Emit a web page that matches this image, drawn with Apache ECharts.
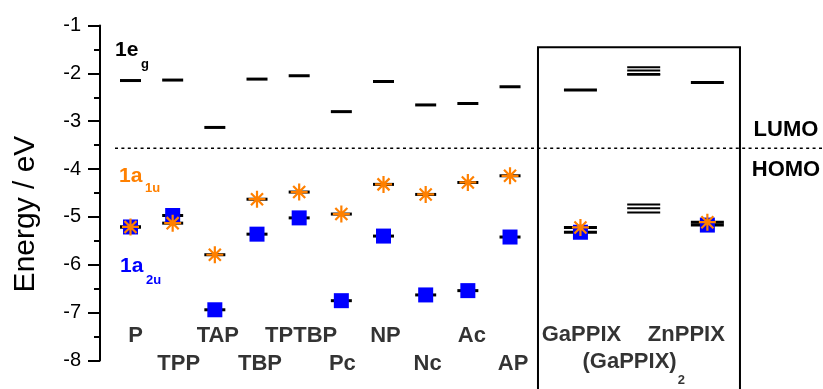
<!DOCTYPE html>
<html>
<head>
<meta charset="utf-8">
<script src="https://cdn.jsdelivr.net/npm/echarts@6/dist/echarts.min.js"></script>
<style>
  html, body { margin: 0; padding: 0; background: #ffffff; }
  #chart { width: 823px; height: 389px; }
</style>
</head>
<body>
<div id="chart"></div>
<script>
// Frontier orbital energies (eV) of porphyrin-type macrocycles
const compounds = ['P', 'TPP', 'TAP', 'TBP', 'TPTBP', 'Pc', 'NP', 'Nc', 'Ac', 'AP',
                   'GaPPIX', '(GaPPIX)2', 'ZnPPIX'];
// ordinal slot of each compound along the horizontal direction
const slots = [1, 2, 3, 4, 5, 6, 7, 8, 9, 10, 11.67, 13.17, 14.68];

// 1eg (LUMO) levels
const egLevels  = [-2.15, -2.14, -3.13, -2.12, -2.05, -2.80, -2.17, -2.66, -2.63, -2.28,
                   -2.35, null, -2.19];
// 1a1u (HOMO) levels
const a1uLevels = [-5.21, -5.13, -5.79, -4.63, -4.48, -4.94, -4.32, -4.53, -4.28, -4.14,
                   -5.22, null, -5.11];
// 1a2u (HOMO) levels
const a2uLevels = [-5.21, -4.97, -6.94, -5.36, -5.02, -6.75, -5.40, -6.63, -6.54, -5.42,
                   -5.32, null, -5.17];
// dimer (GaPPIX)2: split unoccupied and occupied levels
const dimerLumo = [-1.87, -1.94, -2.015, -2.03];
const dimerHomo = [-4.74, -4.82, -4.91];

// HOMO / LUMO separation line
const gapEnergy = -3.565;
// energy axis range and step
const energyMin = -8, energyMax = -1, energyStep = 1;

const FONT = '"Liberation Sans", Arial, Helvetica, sans-serif';
const BLACK = '#000000';
const ORANGE = '#FF8000';
const BLUE = '#0000FF';

// horizontal layout of the plot
const slotMin = 0.2767, slotMax = 17.422;
const ppixFrom = 10;               // index where the PPIX group starts
const frameSlots = [10.663, 15.453];
const frameTop = -1.455;
const gapLineStart = 0.632;

// eight-spoke asterisk marker
const ASTERISK = 'path://M43.5 0H56.5V100H43.5Z M0 43.5H100V56.5H0Z ' +
  'M19.24 10.04L89.96 80.76L80.76 89.96L10.04 19.24Z ' +
  'M80.76 10.04L89.96 19.24L19.24 89.96L10.04 80.76Z';

function pts(values, pick) {
  const out = [];
  values.forEach((v, i) => {
    if (v !== null && pick(i)) out.push([slots[i], v]);
  });
  return out;
}
const core = i => i < ppixFrom;
const ppix = i => i >= ppixFrom;

function levelPoints(pick) {
  return pts(egLevels, pick).concat(pts(a1uLevels, pick), pts(a2uLevels, pick));
}

const dimerIndex = compounds.indexOf('(GaPPIX)2');
const dimerPoints = dimerLumo.concat(dimerHomo).map(v => [slots[dimerIndex], v]);

// category name labels: two staggered rows
const nameShift = [5, 6, 3, 3, 2, 1, 2, 2, 4, 3, 1, -10, -21];
const nameData = compounds.map((c, i) => {
  const lower = i % 2 === 1;
  const dy = i >= ppixFrom ? (lower ? 1 : -26) : (lower ? 3.5 : -24.5);
  return {
    name: c,
    value: [slots[i], energyMin],
    label: { offset: [nameShift[i], dy] }
  };
});

const solid = color => ({ color: color, opacity: 1 });

const chart = echarts.init(document.getElementById('chart'), null, { renderer: 'canvas' });

chart.setOption({
  animation: false,
  backgroundColor: '#ffffff',
  grid: { left: 100, right: 0, top: 25.5, bottom: 28.5, outerBoundsMode: 'none', containLabel: false },
  xAxis: { type: 'value', min: slotMin, max: slotMax, show: false },
  yAxis: {
    type: 'value',
    min: energyMin, max: energyMax, interval: energyStep,
    axisLine: { show: true, lineStyle: { color: BLACK, width: 2 } },
    axisTick: { show: true, inside: false, length: 12, lineStyle: { color: BLACK, width: 2 } },
    minorTick: { show: true, splitNumber: 2, length: 6, lineStyle: { color: BLACK, width: 2 } },
    splitLine: { show: false },
    minorSplitLine: { show: false },
    axisLabel: { color: BLACK, fontSize: 20, fontFamily: FONT, margin: 19 }
  },
  series: [
    {
      name: 'frame', type: 'line', clip: false, silent: true, symbol: 'none',
      lineStyle: { color: BLACK, width: 2, join: 'miter' },
      data: [[frameSlots[0], energyMin - 1], [frameSlots[0], frameTop],
             [frameSlots[1], frameTop], [frameSlots[1], energyMin - 1]]
    },
    {
      name: 'gap', type: 'line', silent: true, symbol: 'none',
      lineStyle: { color: BLACK, width: 1.6, type: [3, 3.4] },
      data: [[gapLineStart, gapEnergy], [slotMax, gapEnergy]]
    },
    {
      name: 'levels', type: 'scatter', silent: true,
      symbol: 'rect', symbolSize: [21, 3],
      itemStyle: solid(BLACK),
      data: levelPoints(core)
    },
    {
      name: 'levels PPIX', type: 'scatter', silent: true,
      symbol: 'rect', symbolSize: [33, 3],
      itemStyle: solid(BLACK),
      data: levelPoints(ppix)
    },
    {
      name: 'dimer levels', type: 'scatter', silent: true,
      symbol: 'rect', symbolSize: [33, 2],
      itemStyle: solid(BLACK),
      data: dimerPoints
    },
    {
      name: '1a2u', type: 'scatter', silent: true,
      symbol: 'rect', symbolSize: 15,
      itemStyle: solid(BLUE),
      data: pts(a2uLevels, () => true)
    },
    {
      name: '1a1u', type: 'scatter', silent: true,
      symbol: ASTERISK, symbolSize: 17,
      itemStyle: solid(ORANGE),
      data: pts(a1uLevels, () => true)
    },
    {
      name: 'names', type: 'scatter', silent: true,
      symbolSize: 0, itemStyle: { color: 'rgba(0,0,0,0)' },
      label: {
        show: true, position: 'inside',
        formatter: p => {
          const m = /^(.*\))(\d)$/.exec(p.name);
          return m ? '{m|' + m[1] + '}{s|' + m[2] + '}' : '{m|' + p.name + '}';
        },
        rich: {
          m: { fontSize: 22, fontWeight: 'bold', fontFamily: FONT, color: BLACK },
          s: { fontSize: 13, fontWeight: 'bold', fontFamily: FONT, color: BLACK, padding: [38, 0, 0, 1] }
        }
      },
      data: nameData
    }
  ],
  graphic: [
    { type: 'text', x: 26, y: 214, rotation: Math.PI / 2, silent: true,
      style: { text: 'Energy / eV', fontSize: 30, fontFamily: FONT, fill: BLACK,
               align: 'center', verticalAlign: 'middle' } },
    { type: 'text', x: 115, y: 50.5, silent: true,
      style: { text: '1e', fontSize: 21, fontWeight: 'bold', fontFamily: FONT, fill: BLACK,
               align: 'left', verticalAlign: 'middle' } },
    { type: 'text', x: 141, y: 64.5, silent: true,
      style: { text: 'g', fontSize: 13, fontWeight: 'bold', fontFamily: FONT, fill: BLACK,
               align: 'left', verticalAlign: 'middle' } },
    { type: 'text', x: 119, y: 176, silent: true,
      style: { text: '1a', fontSize: 21, fontWeight: 'bold', fontFamily: FONT, fill: ORANGE,
               align: 'left', verticalAlign: 'middle' } },
    { type: 'text', x: 145, y: 188.5, silent: true,
      style: { text: '1u', fontSize: 13, fontWeight: 'bold', fontFamily: FONT, fill: ORANGE,
               align: 'left', verticalAlign: 'middle' } },
    { type: 'text', x: 120, y: 266, silent: true,
      style: { text: '1a', fontSize: 21, fontWeight: 'bold', fontFamily: FONT, fill: BLUE,
               align: 'left', verticalAlign: 'middle' } },
    { type: 'text', x: 146, y: 280.5, silent: true,
      style: { text: '2u', fontSize: 13, fontWeight: 'bold', fontFamily: FONT, fill: BLUE,
               align: 'left', verticalAlign: 'middle' } },
    { type: 'text', x: 786, y: 129.5, silent: true,
      style: { text: 'LUMO', fontSize: 22, fontWeight: 'bold', fontFamily: FONT, fill: BLACK,
               align: 'center', verticalAlign: 'middle' } },
    { type: 'text', x: 786, y: 170, silent: true,
      style: { text: 'HOMO', fontSize: 22, fontWeight: 'bold', fontFamily: FONT, fill: BLACK,
               align: 'center', verticalAlign: 'middle' } }
  ]
});
</script>
</body>
</html>
